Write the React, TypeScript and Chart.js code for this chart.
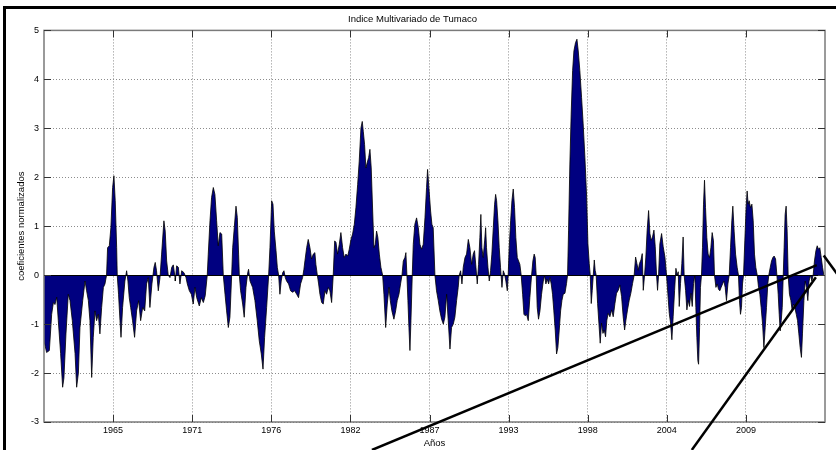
import React, { useEffect, useRef } from 'react';
import { Chart, registerables } from 'chart.js';

Chart.register(...registerables);

const TITLE = 'Indice Multivariado de Tumaco';
const X_LABEL = 'Años';
const Y_LABEL = 'coeficientes normalizados';

const xMin = 1961.03;
const xMax = 2015.09;
const yMin = -3;
const yMax = 5;

const xTickYears = [1965.81, 1971.29, 1976.76, 1982.24, 1987.72, 1993.19, 1998.67, 2004.14, 2009.62];
const xTickLabels = ['1965', '1971', '1976', '1982', '1987', '1993', '1998', '2004', '2009'];

// [year, normalized coefficient]
const data1961_1970: [number, number][] = [
  [1961.03, -1.34], [1961.21, -1.58], [1961.40, -1.54], [1961.56, -0.8], [1961.68, -0.56], [1961.79, -0.6],
  [1961.91, -0.45], [1962.02, -0.93], [1962.18, -1.6], [1962.32, -2.29], [1962.41, -2.1], [1962.55, -1.2],
  [1962.71, -0.39], [1962.83, -0.52], [1962.99, -0.93], [1963.18, -1.6], [1963.29, -2.29], [1963.41, -2.0],
  [1963.52, -1.07], [1963.71, -0.52], [1963.87, -0.12], [1963.98, -0.32], [1964.10, -0.52], [1964.21, -0.93],
  [1964.33, -2.09], [1964.44, -1.27], [1964.56, -0.73], [1964.67, -0.93], [1964.79, -0.8], [1964.90, -1.2],
  [1965.02, -0.66], [1965.14, -0.25], [1965.25, -0.18], [1965.36, 0], [1965.43, 0.56], [1965.55, 0.6],
  [1965.66, 0.97], [1965.78, 1.79], [1965.87, 2.03], [1965.96, 1.52], [1966.06, 0.56], [1966.10, 0],
  [1966.19, -0.39], [1966.29, -0.93], [1966.36, -1.27], [1966.47, -0.66], [1966.63, -0.12], [1966.75, 0.09],
  [1966.84, -0.12], [1966.93, -0.46], [1967.03, -0.66], [1967.16, -0.93], [1967.30, -1.27], [1967.44, -0.73],
  [1967.58, -0.52], [1967.72, -0.93], [1967.86, -0.66], [1968.00, -0.73], [1968.13, -0.18], [1968.25, -0.05],
  [1968.36, -0.66], [1968.50, -0.18], [1968.64, 0.16], [1968.73, 0.26], [1968.82, 0.09], [1968.94, -0.32],
  [1969.06, -0.05], [1969.17, 0.43], [1969.33, 1.11], [1969.42, 0.9], [1969.52, 0.29], [1969.63, 0],
  [1969.75, -0.05], [1969.87, 0.16], [1969.98, 0.21], [1970.10, -0.05],
];

const data1970_1979: [number, number][] = [
  [1970.12, -0.12], [1970.21, 0.19], [1970.33, 0.16], [1970.44, -0.18], [1970.56, 0.09], [1970.72, 0.05],
  [1970.86, -0.05], [1970.95, -0.18], [1971.09, -0.32], [1971.23, -0.39], [1971.36, -0.59], [1971.48, -0.25],
  [1971.60, -0.46], [1971.78, -0.63], [1971.92, -0.46], [1972.06, -0.56], [1972.19, -0.42], [1972.33, 0],
  [1972.40, 0.43], [1972.52, 1.11], [1972.63, 1.59], [1972.75, 1.79], [1972.86, 1.65], [1972.98, 1.11],
  [1973.09, 0.6], [1973.21, 0.87], [1973.33, 0.84], [1973.44, 0], [1973.56, -0.39], [1973.67, -0.73],
  [1973.79, -1.07], [1973.90, -0.86], [1974.02, 0], [1974.09, 0.56], [1974.20, 0.97], [1974.32, 1.41],
  [1974.41, 1.18], [1974.50, 0.43], [1974.55, 0], [1974.64, -0.32], [1974.78, -0.59], [1974.89, -0.86],
  [1975.01, -0.25], [1975.13, 0.05], [1975.19, 0.12], [1975.29, -0.12], [1975.47, -0.25], [1975.63, -0.52],
  [1975.79, -0.93], [1975.93, -1.34], [1976.07, -1.61], [1976.19, -1.92], [1976.30, -1.27], [1976.44, -0.66],
  [1976.58, 0], [1976.67, 0.56], [1976.79, 1.52], [1976.88, 1.45], [1976.97, 0.9], [1977.09, 0.5],
  [1977.18, 0.16], [1977.27, 0], [1977.36, -0.39], [1977.45, -0.12], [1977.55, 0.05], [1977.64, 0.09],
  [1977.73, -0.05], [1977.82, -0.12], [1977.96, -0.18], [1978.10, -0.32], [1978.24, -0.35], [1978.38, -0.32],
  [1978.52, -0.39], [1978.65, -0.46], [1978.79, -0.18], [1978.93, -0.05], [1979.02, 0.12],
];

const data1979_1988: [number, number][] = [
  [1979.09, 0.29], [1979.21, 0.56], [1979.32, 0.73], [1979.44, 0.56], [1979.55, 0.33], [1979.67, 0.43],
  [1979.78, 0.46], [1979.85, 0.22], [1979.95, 0], [1980.04, -0.18], [1980.13, -0.39], [1980.25, -0.56],
  [1980.36, -0.59], [1980.48, -0.32], [1980.59, -0.39], [1980.71, -0.25], [1980.82, -0.32], [1980.94, -0.56],
  [1981.05, 0], [1981.15, 0.7], [1981.24, 0.67], [1981.35, 0.43], [1981.47, 0.63], [1981.58, 0.87],
  [1981.70, 0.56], [1981.81, 0.36], [1981.93, 0.43], [1982.05, 0.39], [1982.16, 0.53], [1982.28, 0.73],
  [1982.39, 0.84], [1982.51, 1.04], [1982.62, 1.38], [1982.74, 1.85], [1982.85, 2.33], [1982.97, 3.01],
  [1983.06, 3.14], [1983.13, 2.94], [1983.22, 2.67], [1983.31, 2.19], [1983.43, 2.33], [1983.50, 2.40],
  [1983.59, 2.57], [1983.68, 2.19], [1983.78, 1.31], [1983.87, 0.56], [1983.96, 0.63], [1984.05, 0.9],
  [1984.14, 0.77], [1984.24, 0.43], [1984.35, 0.16], [1984.47, 0], [1984.56, -0.39], [1984.68, -1.07],
  [1984.79, -0.59], [1984.91, -0.25], [1985.00, -0.52], [1985.11, -0.73], [1985.25, -0.9], [1985.37, -0.73],
  [1985.48, -0.52], [1985.60, -0.39], [1985.71, -0.18], [1985.81, 0], [1985.90, 0.29], [1986.01, 0.36],
  [1986.08, 0.46], [1986.15, 0], [1986.22, -0.52], [1986.29, -1.07], [1986.36, -1.54], [1986.43, -0.93],
  [1986.52, 0], [1986.59, 0.63], [1986.70, 1.04], [1986.82, 1.17], [1986.94, 0.97], [1987.05, 0.63],
  [1987.17, 0.53], [1987.28, 0.63], [1987.40, 1.17], [1987.51, 1.79], [1987.58, 2.16], [1987.67, 1.79],
  [1987.79, 1.31], [1987.88, 1.04], [1987.97, 0.97],
];

const data1988_1997: [number, number][] = [
  [1988.09, 0], [1988.20, -0.32], [1988.32, -0.52], [1988.43, -0.73], [1988.55, -0.9], [1988.67, -1.0],
  [1988.78, -0.86], [1988.90, -0.39], [1989.01, -0.93], [1989.13, -1.51], [1989.24, -1.07], [1989.36, -1.0],
  [1989.47, -0.86], [1989.59, -0.52], [1989.70, -0.25], [1989.77, 0], [1989.87, 0.09], [1989.96, -0.18],
  [1990.05, 0.16], [1990.17, 0.36], [1990.28, 0.43], [1990.40, 0.73], [1990.51, 0.56], [1990.63, 0.22],
  [1990.74, 0.43], [1990.83, 0.5], [1990.93, 0.16], [1991.02, -0.18], [1991.11, 0.22], [1991.20, 0.77],
  [1991.27, 1.24], [1991.34, 0.56], [1991.43, 0.36], [1991.53, 0.7], [1991.60, 0.97], [1991.66, 0.56],
  [1991.76, 0.16], [1991.85, -0.12], [1991.94, 0.09], [1992.03, 0.43], [1992.13, 0.97], [1992.22, 1.45],
  [1992.29, 1.65], [1992.36, 1.52], [1992.45, 1.11], [1992.54, 0.56], [1992.63, 0.16], [1992.73, -0.25],
  [1992.82, 0.09], [1992.91, 0.02], [1993.00, -0.12], [1993.10, -0.32], [1993.16, 0], [1993.23, 0.56],
  [1993.33, 1.11], [1993.42, 1.52], [1993.51, 1.76], [1993.60, 1.38], [1993.69, 0.77], [1993.79, 0.36],
  [1993.88, 0.29], [1993.97, 0.22], [1994.06, 0], [1994.16, -0.39], [1994.25, -0.8], [1994.34, -0.83],
  [1994.43, -0.8], [1994.55, -0.93], [1994.66, -0.46], [1994.78, 0], [1994.87, 0.29], [1994.96, 0.43],
  [1995.03, 0.36], [1995.10, 0], [1995.17, -0.66], [1995.26, -0.9], [1995.36, -0.73], [1995.47, -0.39],
  [1995.59, -0.12], [1995.68, -0.01], [1995.77, -0.18], [1995.86, -0.08], [1995.96, -0.18], [1996.05, -0.05],
  [1996.14, -0.18], [1996.23, -0.39], [1996.32, -0.73], [1996.42, -1.14], [1996.51, -1.61], [1996.60, -1.48],
  [1996.69, -1.14], [1996.79, -0.73], [1996.88, -0.52], [1996.97, -0.39],
];

const data1997_2006: [number, number][] = [
  [1997.09, -0.37], [1997.20, -0.17], [1997.27, 0], [1997.34, 0.92], [1997.43, 2.27], [1997.52, 3.29],
  [1997.62, 4.18], [1997.71, 4.58], [1997.82, 4.75], [1997.92, 4.82], [1998.01, 4.58], [1998.12, 4.18],
  [1998.24, 3.63], [1998.35, 3.09], [1998.47, 2.41], [1998.59, 1.6], [1998.68, 0.64], [1998.77, 0.24],
  [1998.84, 0], [1998.91, -0.58], [1998.98, -0.31], [1999.05, 0], [1999.12, 0.31], [1999.18, 0.1],
  [1999.25, 0], [1999.35, -0.58], [1999.44, -0.98], [1999.53, -1.39], [1999.62, -0.98], [1999.72, -1.19],
  [1999.81, -1.12], [1999.90, -1.26], [1999.99, -0.92], [2000.08, -0.78], [2000.20, -0.85], [2000.32, -0.71],
  [2000.43, -0.85], [2000.55, -0.58], [2000.66, -0.37], [2000.78, -0.31], [2000.89, -0.2], [2001.01, -0.44],
  [2001.12, -0.85], [2001.22, -1.12], [2001.31, -0.92], [2001.42, -0.71], [2001.54, -0.51], [2001.65, -0.37],
  [2001.77, -0.17], [2001.88, 0], [2001.98, 0.37], [2002.07, 0.24], [2002.16, 0.1], [2002.25, 0.24],
  [2002.35, 0.31], [2002.44, 0.44], [2002.51, -0.31], [2002.60, 0], [2002.69, 0.37], [2002.78, 0.92],
  [2002.88, 1.32], [2002.97, 0.85], [2003.06, 0.71], [2003.15, 0.78], [2003.25, 0.92], [2003.34, 0.58],
  [2003.43, 0], [2003.50, -0.31], [2003.57, 0], [2003.66, 0.64], [2003.78, 0.85], [2003.89, 0.58],
  [2004.01, 0.37], [2004.12, 0], [2004.21, -0.37], [2004.31, -0.78], [2004.40, -0.98], [2004.49, -1.32],
  [2004.58, -0.85], [2004.68, -0.31], [2004.77, 0.14], [2004.86, 0], [2004.93, 0.07], [2005.00, -0.64],
  [2005.09, -0.17], [2005.18, 0.24], [2005.27, 0.78], [2005.34, 0], [2005.44, -0.31], [2005.53, -0.71],
  [2005.62, -0.51], [2005.71, -0.64], [2005.81, -0.37], [2005.90, -0.64], [2005.99, -0.17],
];

const data2006_2015: [number, number][] = [
  [2006.08, 0], [2006.15, -0.66], [2006.22, -1.27], [2006.29, -1.75], [2006.34, -1.82], [2006.41, -1.07],
  [2006.47, -0.25], [2006.54, 0], [2006.61, 0.56], [2006.68, 1.45], [2006.75, 1.94], [2006.82, 1.38],
  [2006.91, 0.77], [2007.00, 0.43], [2007.10, 0.36], [2007.19, 0.56], [2007.28, 0.87], [2007.37, 0.7],
  [2007.44, 0], [2007.54, -0.25], [2007.63, -0.18], [2007.72, -0.29], [2007.81, -0.32], [2007.90, -0.25],
  [2008.00, -0.18], [2008.09, -0.12], [2008.18, -0.25], [2008.27, -0.52], [2008.37, -0.18], [2008.46, 0],
  [2008.55, 0.56], [2008.64, 1.11], [2008.71, 1.41], [2008.80, 0.9], [2008.90, 0.43], [2009.01, 0.16],
  [2009.10, 0], [2009.17, -0.52], [2009.24, -0.8], [2009.31, -0.66], [2009.38, -0.18], [2009.45, 0],
  [2009.54, 0.7], [2009.63, 1.38], [2009.70, 1.72], [2009.77, 1.45], [2009.84, 1.52], [2009.93, 1.38],
  [2010.03, 1.45], [2010.12, 1.11], [2010.21, 0.43], [2010.30, 0.16], [2010.40, 0], [2010.49, -0.25],
  [2010.58, -0.39], [2010.67, -0.66], [2010.77, -1.0], [2010.86, -1.48], [2010.95, -1.07], [2011.04, -0.66],
  [2011.13, -0.18], [2011.20, 0], [2011.30, 0.16], [2011.39, 0.29], [2011.48, 0.36], [2011.57, 0.39],
  [2011.67, 0.33], [2011.76, 0], [2011.85, -0.39], [2011.92, -0.8], [2011.99, -1.14], [2012.06, -0.93],
  [2012.13, -0.66], [2012.20, 0], [2012.26, 0.56], [2012.33, 1.24], [2012.40, 1.41], [2012.47, 0.9],
  [2012.54, 0], [2012.63, -0.39], [2012.73, -0.52], [2012.82, -0.73], [2012.91, -0.59], [2013.00, -0.66],
  [2013.10, -0.8], [2013.19, -0.93], [2013.28, -1.2], [2013.37, -1.48], [2013.46, -1.68], [2013.53, -1.2],
  [2013.63, -0.52], [2013.72, -0.12], [2013.81, -0.25], [2013.90, -0.52], [2013.99, -0.12], [2014.09, 0],
  [2014.18, -0.12], [2014.27, 0], [2014.36, 0.29], [2014.46, 0.5], [2014.55, 0.6], [2014.64, 0.53],
  [2014.73, 0.56], [2014.83, 0.36], [2014.92, 0.16], [2015.01, 0],
];

// Callout lines overlaid on the figure (endpoints in [year, value])
const calloutLines: [number, number][][] = [
  [[1983.73, -3.571], [2014.52, 0.204]],
  [[2005.87, -3.571], [2014.46, -0.041]],
  [[2015.0, 0.40], [2016.12, -0.05]],
];

const FONT = "'Liberation Sans', Arial, Helvetica, sans-serif";

const allData = [
  ...data1961_1970,
  ...data1970_1979,
  ...data1979_1988,
  ...data1988_1997,
  ...data1997_2006,
  ...data2006_2015,
];

const matlabAxesPlugin = {
  id: 'matlabAxes',
  afterDatasetsDraw(chart: any) {
    const { ctx, chartArea: a, scales } = chart;
    const xs = scales.x;
    const ys = scales.y;
    ctx.save();
    // baseline of the area
    const y0 = Math.round(ys.getPixelForValue(0)) + 0.5;
    ctx.strokeStyle = '#000';
    ctx.lineWidth = 1;
    ctx.beginPath();
    ctx.moveTo(xs.getPixelForValue(allData[0][0]), y0);
    ctx.lineTo(xs.getPixelForValue(allData[allData.length - 1][0]), y0);
    ctx.stroke();

    // axes box
    ctx.strokeStyle = '#7a7a7a';
    ctx.lineWidth = 1.5;
    ctx.strokeRect(a.left, a.top, a.right - a.left, a.bottom - a.top);

    // inward tick marks
    ctx.strokeStyle = '#333';
    ctx.lineWidth = 1;
    const tl = 7;
    ctx.beginPath();
    for (const v of xTickYears) {
      const px = Math.round(xs.getPixelForValue(v)) + 0.5;
      ctx.moveTo(px, a.top);
      ctx.lineTo(px, a.top + tl);
      ctx.moveTo(px, a.bottom);
      ctx.lineTo(px, a.bottom - tl);
    }
    for (let v = yMin; v <= yMax; v++) {
      const py = Math.round(ys.getPixelForValue(v)) + 0.5;
      ctx.moveTo(a.left, py);
      ctx.lineTo(a.left + tl, py);
      ctx.moveTo(a.right, py);
      ctx.lineTo(a.right - tl, py);
    }
    ctx.stroke();

    // callout lines
    ctx.strokeStyle = '#000';
    ctx.lineWidth = 2.5;
    for (const seg of calloutLines) {
      ctx.beginPath();
      ctx.moveTo(xs.getPixelForValue(seg[0][0]), ys.getPixelForValue(seg[0][1]));
      ctx.lineTo(xs.getPixelForValue(seg[1][0]), ys.getPixelForValue(seg[1][1]));
      ctx.stroke();
    }
    ctx.restore();
  },
};

export default function App() {
  const canvasRef = useRef<HTMLCanvasElement>(null);

  useEffect(() => {
    const canvas = canvasRef.current;
    if (!canvas) return;
    const chart = new Chart(canvas, {
      type: 'line',
      data: {
        datasets: [
          {
            data: allData.map(([x, y]) => ({ x, y })),
            borderColor: '#000000',
            borderWidth: 0.8,
            backgroundColor: '#000080',
            fill: 'origin',
            pointRadius: 0,
            tension: 0,
          },
        ],
      },
      options: {
        responsive: false,
        animation: false,
        devicePixelRatio: 1,
        layout: { padding: { left: 0, right: 11, top: 0, bottom: 0 } },
        plugins: {
          legend: { display: false },
          tooltip: { enabled: false },
          title: {
            display: true,
            text: TITLE,
            color: '#000',
            font: { family: FONT, size: 9.5, weight: 'normal' },
            padding: { top: 14, bottom: 5 },
          },
        },
        scales: {
          x: {
            type: 'linear',
            min: xMin,
            max: xMax,
            afterBuildTicks: (s: any) => {
              s.ticks = xTickYears.map((v) => ({ value: v }));
            },
            afterFit: (s: any) => {
              s.height = 28;
            },
            ticks: {
              autoSkip: false,
              maxRotation: 0,
              padding: 3,
              color: '#000',
              font: { family: FONT, size: 9 },
              callback: (_v: any, i: number) => xTickLabels[i],
            },
            grid: { color: '#8c8c8c', lineWidth: 1, drawTicks: false },
            border: { display: false, dash: [1, 2] },
            title: {
              display: true,
              text: X_LABEL,
              color: '#000',
              font: { family: FONT, size: 9.5 },
              padding: { top: 0, bottom: 1 },
            },
          },
          y: {
            min: yMin,
            max: yMax,
            afterFit: (s: any) => {
              s.width = 44;
            },
            ticks: {
              stepSize: 1,
              padding: 5,
              color: '#000',
              font: { family: FONT, size: 9 },
            },
            grid: { color: '#8c8c8c', lineWidth: 1, drawTicks: false },
            border: { display: false, dash: [1, 2] },
            title: {
              display: true,
              text: Y_LABEL,
              color: '#000',
              font: { family: FONT, size: 9.5 },
              padding: { top: 16, bottom: 0 },
            },
          },
        },
      },
      plugins: [matlabAxesPlugin],
    });
    return () => chart.destroy();
  }, []);

  return (
    <div style={{ position: 'fixed', left: 0, top: 0, width: 836, height: 450, background: '#fff', overflow: 'hidden' }}>
      <canvas ref={canvasRef} width={836} height={450} style={{ display: 'block' }} />
      <div
        style={{
          position: 'absolute',
          left: 3,
          top: 6,
          right: -10,
          bottom: -10,
          borderTop: '3px solid #000',
          borderLeft: '3px solid #000',
          pointerEvents: 'none',
        }}
      />
    </div>
  );
}
